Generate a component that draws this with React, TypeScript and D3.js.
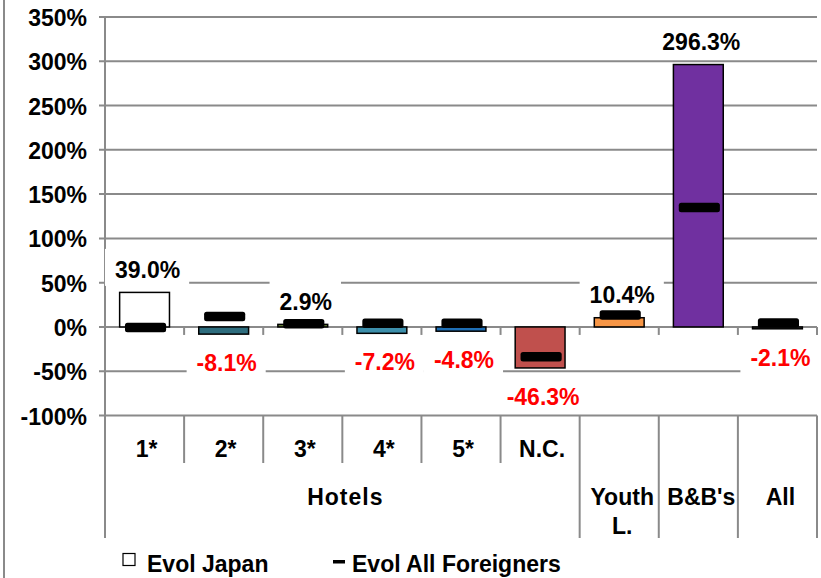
import React from 'react';
import * as d3 from 'd3';

// chart data
const categories = ['1*', '2*', '3*', '4*', '5*', 'N.C.', 'Youth L.', "B&B's", 'All'];
const evolJapan = [39.0, -8.1, 2.9, -7.2, -4.8, -46.3, 10.4, 296.3, -2.1];
const evolForeigners = [-0.7, 11.7, 3.6, 4.1, 4.1, -33.6, 13.4, 134.8, 4.4];
const barColors = ['#ffffff', '#2e6d7e', '#6b8a3a', '#3d8fab', '#1f6fb5', '#c0504d', '#f79646', '#7030a0', '#3a3a3a'];
const yTicks = [-100, -50, 0, 50, 100, 150, 200, 250, 300, 350];
const hotelsCount = 6;
const groupLabel = 'Hotels';
const legendLabels = ['Evol Japan', 'Evol All Foreigners'];

const W = 821;
const H = 578;
const FONT = '"Liberation Sans", Arial, sans-serif';
const GRID = '#8a8a8a';

export default function App() {
  const left = 105;
  const right = 817;
  const x = d3.scaleBand<string>().domain(categories).range([left, right]).paddingInner(0).paddingOuter(0);
  const y = d3.scaleLinear().domain([-100, 350]).range([415.5, 17]);
  const bw = x.bandwidth();
  const barW = bw * 0.63;
  const markW = bw * 0.52;
  const markH = 9.5;
  const y0 = y(0);
  const yBottom = y(-100);
  const labelRowBottom = 463;
  const axisBottom = 538;

  const fmt = (v: number) => `${v.toFixed(1)}%`;
  // rough width of bold 23px text, for the label backgrounds
  const textW = (s: string) => {
    let w = 0;
    for (const c of s) {
      if (c === '%') w += 0.889;
      else if (c === '.') w += 0.278;
      else if (c === '-') w += 0.333;
      else w += 0.556;
    }
    return w * 23;
  };

  const boundaries = d3.range(categories.length + 1).map(i => left + i * bw);

  return (
    <svg width={W} height={H} style={{ position: 'absolute', left: 0, top: 0, background: '#fff' }}
      fontFamily={FONT} fontWeight="bold">
      <rect x={0} y={0} width={W} height={H} fill="#fff" />
      {/* outer chart border (only the left edge shows) */}
      <line x1={4} x2={4} y1={0} y2={H} stroke={GRID} strokeWidth={2} />

      {/* gridlines + y ticks */}
      {yTicks.map(t => (
        <g key={t}>
          <line x1={left - 6} x2={right} y1={y(t)} y2={y(t)} stroke={GRID} strokeWidth={2} />
          <text x={87} y={y(t) + 9} textAnchor="end" fontSize={23} fill="#000">{t}%</text>
        </g>
      ))}

      {/* y axis */}
      <line x1={left} x2={left} y1={y(350)} y2={axisBottom} stroke={GRID} strokeWidth={2} />

      {/* category ticks on zero line and label separators */}
      {boundaries.map((bx, i) => {
        const full = i === 0 || i >= hotelsCount;
        return (
          <g key={i}>
            <line x1={bx} x2={bx} y1={y0} y2={y0 + 8} stroke={GRID} strokeWidth={2} />
            <line x1={bx} x2={bx} y1={yBottom} y2={full ? axisBottom : labelRowBottom} stroke={GRID} strokeWidth={2} />
          </g>
        );
      })}

      {/* Evol Japan bars */}
      {categories.map((c, i) => {
        const v = evolJapan[i];
        const cx = x(c)! + bw / 2;
        return (
          <rect key={c} x={cx - barW / 2} width={barW}
            y={Math.min(y(v), y0)} height={Math.abs(y(v) - y0)}
            fill={barColors[i]} stroke="#000" strokeWidth={1.5} />
        );
      })}

      {/* value labels with white background */}
      {categories.map((c, i) => {
        const v = evolJapan[i];
        const cx = x(c)! + bw / 2 + 3;
        const base = v >= 0 ? y(v) - 14.5 : y(v) + 37;
        const s = fmt(v);
        const tw = textW(s);
        return (
          <g key={c}>
            <rect x={cx - tw / 2 - 10} width={tw + 19} y={base - 29} height={37} fill="#fff" />
            <text x={cx} y={base} textAnchor="middle" fontSize={23} fill={v >= 0 ? '#000' : '#ff0000'}>{s}</text>
          </g>
        );
      })}

      {/* Evol All Foreigners markers */}
      {categories.map((c, i) => {
        const cx = x(c)! + bw / 2 + 1;
        return (
          <rect key={c} x={cx - markW / 2} width={markW} y={y(evolForeigners[i]) - markH / 2} height={markH}
            rx={2.5} fill="#000" />
        );
      })}

      {/* category labels */}
      {categories.map((c, i) => {
        const cx = x(c)! + bw / 2;
        if (i < hotelsCount) {
          return <text key={c} x={cx + 2} y={456.5} textAnchor="middle" fontSize={23}>{c}</text>;
        }
        const parts = c.split(' ');
        return (
          <text key={c} x={cx + 3} y={505} textAnchor="middle" fontSize={23}>
            {parts.map((p, j) => (
              <tspan key={j} x={cx + 3} dy={j === 0 ? 0 : 28.5}>{p}</tspan>
            ))}
          </text>
        );
      })}
      <text x={(left + boundaries[hotelsCount]) / 2 + 3} y={505} textAnchor="middle" fontSize={23} letterSpacing={1}>{groupLabel}</text>

      {/* legend */}
      <rect x={123} y={553.5} width={12} height={12} fill="#fff" stroke="#000" strokeWidth={1.2} />
      <text x={147} y={572} fontSize={23}>{legendLabels[0]}</text>
      <rect x={333} y={560} width={12} height={3.5} fill="#000" />
      <text x={352} y={572} fontSize={23}>{legendLabels[1]}</text>
    </svg>
  );
}
